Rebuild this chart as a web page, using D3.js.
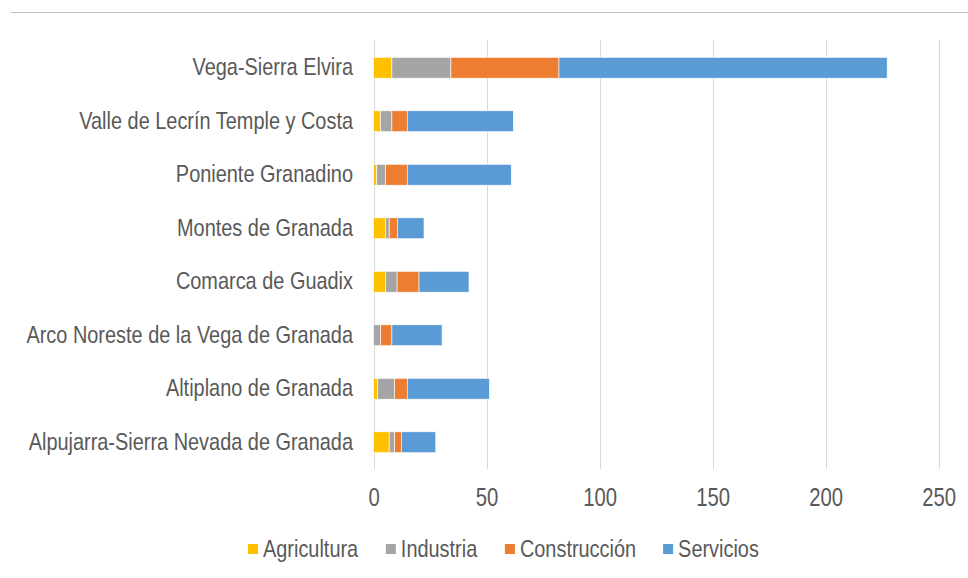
<!DOCTYPE html>
<html>
<head>
<meta charset="utf-8">
<script src="https://cdn.jsdelivr.net/npm/d3@7"></script>
<style>
  body { margin: 0; background: #fff; }
  svg text { font-family: "Liberation Sans Narrow", "Arial Narrow", "Liberation Sans", Arial, sans-serif; fill: #595959; }
</style>
</head>
<body>
<div id="chart"></div>
<script>
// comarcas, top to bottom as in the chart
const comarcas = [
  'Vega-Sierra Elvira',
  'Valle de Lecrín Temple y Costa',
  'Poniente Granadino',
  'Montes de Granada',
  'Comarca de Guadix',
  'Arco Noreste de la Vega de Granada',
  'Altiplano de Granada',
  'Alpujarra-Sierra Nevada de Granada'
];
const sectores = ['Agricultura', 'Industria', 'Construcción', 'Servicios'];
const agricultura  = [8.1, 3.1, 1.4, 5.3, 5.3, 0, 1.8, 6.9];
const industria    = [26.1, 5.0, 3.9, 1.6, 5.1, 3.1, 7.5, 2.4];
const construccion = [47.8, 6.8, 9.6, 3.6, 9.7, 5.0, 5.6, 3.0];
const servicios    = [145.2, 46.9, 46.0, 11.8, 22.1, 22.2, 36.3, 15.2];
const xTicks = [0, 50, 100, 150, 200, 250];
const colores = ['#FFC000', '#A5A5A5', '#ED7D31', '#5B9BD5'];

const width = 968, height = 578;
// no narrow font installed, so squeeze the text horizontally
const squeeze = 'scale(0.83,1)';

const svg = d3.select('#chart').append('svg')
  .attr('width', width)
  .attr('height', height);

// thin rule on top
svg.append('line')
  .attr('x1', 11).attr('x2', width)
  .attr('y1', 12.5).attr('y2', 12.5)
  .attr('stroke', '#bfbfbf').attr('stroke-width', 1);

const x = d3.scaleLinear().domain([0, 250]).range([373.6, 938.7]);
const y = d3.scaleBand().domain(comarcas).range([41, 469])
  .paddingInner(0.61).paddingOuter(0.305);

// gridlines
svg.append('g').selectAll('line')
  .data(xTicks)
  .join('line')
  .attr('x1', d => Math.round(x(d)) + 0.5)
  .attr('x2', d => Math.round(x(d)) + 0.5)
  .attr('y1', 40).attr('y2', 469)
  .attr('stroke', '#d9d9d9').attr('stroke-width', 1);

// stacked data
const rows = comarcas.map((c, i) => ({
  comarca: c,
  Agricultura: agricultura[i],
  Industria: industria[i],
  'Construcción': construccion[i],
  Servicios: servicios[i]
}));
const series = d3.stack().keys(sectores)(rows);

svg.append('g').selectAll('g')
  .data(series)
  .join('g')
  .attr('fill', (d, i) => colores[i])
  .selectAll('rect')
  .data(d => d)
  .join('rect')
  .attr('x', d => x(d[0]))
  .attr('y', d => y(d.data.comarca))
  .attr('width', d => Math.max(0, x(d[1]) - x(d[0])))
  .attr('height', y.bandwidth())
  .attr('stroke', '#fff')
  .attr('stroke-width', 0.6);

// category labels
const yAxis = d3.axisLeft(y).tickSize(0).tickPadding(0);
svg.append('g')
  .attr('transform', 'translate(353,0)')
  .call(yAxis)
  .call(g => g.select('.domain').remove())
  .selectAll('text')
  .attr('font-size', 24)
  .attr('dy', '0.32em')
  .attr('transform', squeeze)
  .style('fill', '#595959');

// value axis labels
const xAxis = d3.axisBottom(x).tickValues(xTicks).tickSize(0).tickPadding(0);
svg.append('g')
  .attr('transform', 'translate(0,488)')
  .call(xAxis)
  .call(g => g.select('.domain').remove())
  .selectAll('text')
  .attr('font-size', 26)
  .attr('dy', '0.71em')
  .attr('transform', 'scale(0.78,1)')
  .style('fill', '#595959');

// legend
const legend = svg.append('g');
const items = legend.selectAll('g')
  .data(sectores)
  .join('g');
items.append('rect')
  .attr('width', 10).attr('height', 10)
  .attr('y', -5)
  .attr('fill', (d, i) => colores[i]);
items.append('text')
  .attr('dy', '0.35em')
  .attr('font-size', 24)
  .attr('transform', 'translate(15,0) ' + squeeze)
  .text(d => d);

let offset = 0;
items.each(function () {
  d3.select(this).attr('transform', `translate(${offset},0)`);
  offset += this.getBBox().width + 27;
});
offset -= 27;
legend.attr('transform', `translate(${Math.round(248)},549)`);
</script>
</body>
</html>
